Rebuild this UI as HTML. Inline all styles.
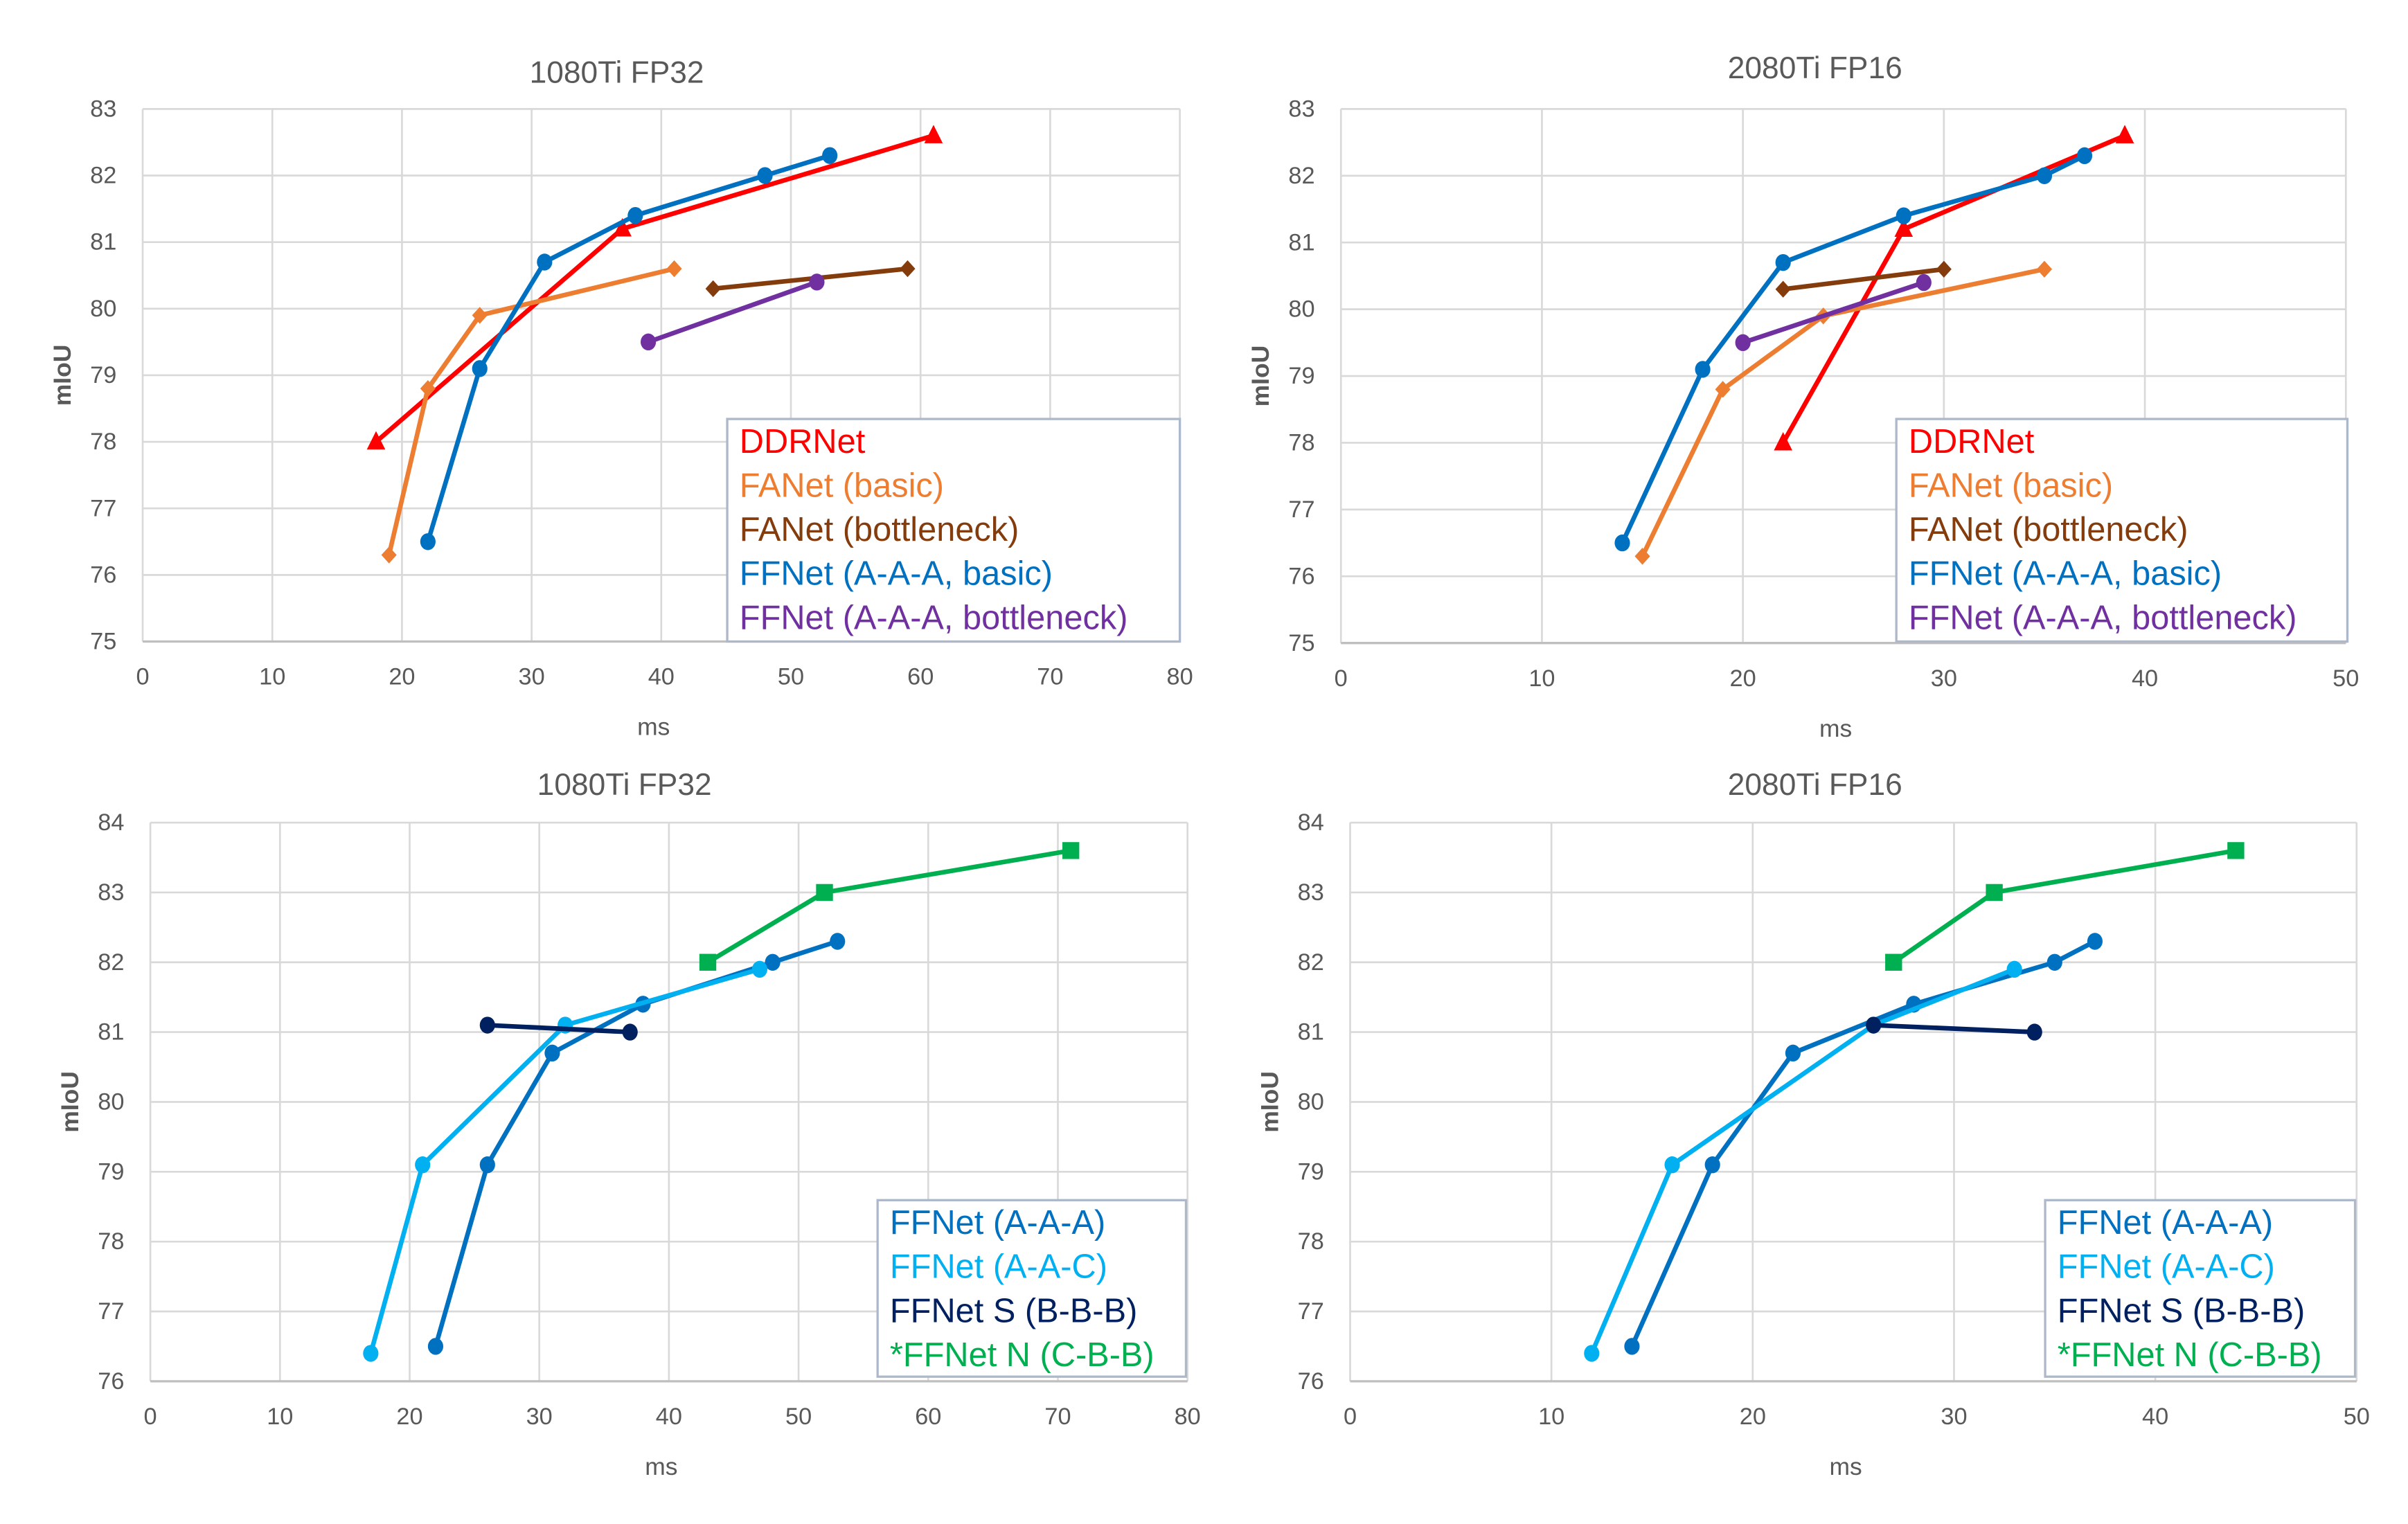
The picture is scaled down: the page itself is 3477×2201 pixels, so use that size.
<!DOCTYPE html>
<html><head><meta charset="utf-8">
<style>
html,body{margin:0;padding:0;background:#fff}
svg{display:block}
text{font-family:"Liberation Sans",sans-serif}
</style></head>
<body>
<svg id="fig" width="3477" height="2201" viewBox="0 0 1569.5 993" preserveAspectRatio="none" xmlns="http://www.w3.org/2000/svg"></svg>
<script>
// ---- Chart 1: 1080Ti FP32 (top-left)
const c1Names = ["DDRNet","FANet (basic)","FANet (bottleneck)","FFNet (A-A-A, basic)","FFNet (A-A-A, bottleneck)"];
const c1X = [[18,37,61],[19,22,26,41],[44,59],[22,26,31,38,48,53],[39,52]];
const c1Y = [[78,81.2,82.6],[76.3,78.8,79.9,80.6],[80.3,80.6],[76.5,79.1,80.7,81.4,82,82.3],[79.5,80.4]];
const c1XTicks = [0,10,20,30,40,50,60,70,80];
const c1YTicks = [75,76,77,78,79,80,81,82,83];
// ---- Chart 2: 2080Ti FP16 (top-right)
const c2X = [[22,28,39],[15,19,24,35],[22,30],[14,18,22,28,35,37],[20,29]];
const c2Y = [[78,81.2,82.6],[76.3,78.8,79.9,80.6],[80.3,80.6],[76.5,79.1,80.7,81.4,82,82.3],[79.5,80.4]];
const c2XTicks = [0,10,20,30,40,50];
// ---- Chart 3: 1080Ti FP32 (bottom-left)
const c3Names = ["FFNet (A-A-A)","FFNet (A-A-C)","FFNet S (B-B-B)","*FFNet N (C-B-B)"];
const c3X = [[22,26,31,38,48,53],[17,21,32,47],[26,37],[43,52,71]];
const c3Y = [[76.5,79.1,80.7,81.4,82,82.3],[76.4,79.1,81.1,81.9],[81.1,81.0],[82,83,83.6]];
const c3YTicks = [76,77,78,79,80,81,82,83,84];
// ---- Chart 4: 2080Ti FP16 (bottom-right)
const c4X = [[14,18,22,28,35,37],[12,16,26,33],[26,34],[27,32,44]];
const c4Y = [[76.5,79.1,80.7,81.4,82,82.3],[76.4,79.1,81.1,81.9],[81.1,81.0],[82,83,83.6]];

const colA = ["#ff0000","#ed7d31","#843c0c","#0070c0","#7030a0"];
const mkA = ["tri","dia","dia","cir","cir"];
const colB = ["#0070c0","#00b0f0","#002060","#00b050"];
const mkB = ["cir","cir","cir","sq"];

const NS="http://www.w3.org/2000/svg";
const svg=document.getElementById('fig');
function el(tag,attrs,parent){const e=document.createElementNS(NS,tag);for(const k in attrs)e.setAttribute(k,attrs[k]);(parent||svg).appendChild(e);return e;}

function chart(cfg){
  const g=el('g',{});
  
  
  const {x0,x1,y0,y1,xmin,xmax,ymin,ymax}=cfg;
  const sx=v=>x0+(v-xmin)/(xmax-xmin)*(x1-x0);
  const sy=v=>y1-(v-ymin)/(ymax-ymin)*(y1-y0);
  cfg.xticks.forEach(t=>{
    const l=el('line',{x1:sx(t),x2:sx(t),y1:y0,y2:y1,stroke:'#d9d9d9','stroke-width':1.2},g);
    
    
    const tx=el('text',{x:sx(t),y:y1+28,'text-anchor':'middle','font-size':15.5,fill:'#595959'},g);
    
    
    tx.textContent=t;
  });
  cfg.yticks.forEach(t=>{
    const l=el('line',{x1:x0,x2:x1,y1:sy(t),y2:sy(t),stroke:'#d9d9d9','stroke-width':1.2},g);
    
    
    const tx=el('text',{x:x0-17,y:sy(t)+5,'text-anchor':'end','font-size':15.5,fill:'#595959'},g);
    
    
    tx.textContent=t;
  });
  const ax=el('line',{x1:x0,x2:x1,y1:y1,y2:y1,stroke:'#bfbfbf','stroke-width':1.5},g);
  
  
  const ti=el('text',{x:cfg.tx,y:cfg.ty,'text-anchor':'middle','font-size':20,fill:'#595959'},g);
  
  
  ti.textContent=cfg.title;
  const xl=el('text',{x:(x0+x1)/2-5,y:y1+61,'text-anchor':'middle','font-size':16,fill:'#595959'},g);
  
  
  xl.textContent='ms';
  const yx=x0-47, yy=(y0+y1)/2;
  const yl=el('text',{x:yx,y:yy,'text-anchor':'middle','font-size':16,fill:'#595959','font-weight':'bold',transform:`rotate(-90 ${yx} ${yy})`},g);
  
  
  yl.textContent='mIoU';
  cfg.X.forEach((xs,i)=>{
    const c=cfg.cols[i];
    const pts=xs.map((v,j)=>sx(v)+','+sy(cfg.Y[i][j])).join(' ');
    const pl=el('polyline',{points:pts,fill:'none',stroke:c,'stroke-width':3,'stroke-linejoin':'round'},g);
    
    
    xs.forEach((v,j)=>{
      const px=sx(v),py=sy(cfg.Y[i][j]);let m;
      const t=cfg.mk[i];
      if(t==='cir') m=el('ellipse',{cx:px,cy:py,rx:5,ry:5.5,fill:c},g);
      else if(t==='tri') m=el('polygon',{points:`${px},${py-7} ${px-6},${py+5} ${px+6},${py+5}`,fill:c},g);
      else if(t==='dia') m=el('polygon',{points:`${px},${py-5.5} ${px+5},${py} ${px},${py+5.5} ${px-5},${py}`,fill:c},g);
      else m=el('rect',{x:px-5.5,y:py-5.5,width:11,height:11,fill:c},g);
      
      
    });
  });
  const L=cfg.leg;
  const lb=el('rect',{x:L.x,y:L.y,width:L.w,height:L.h,fill:'#fff',stroke:'#adb9ca','stroke-width':1.5},g);
  
  
  cfg.names.forEach((n,i)=>{
    const t=el('text',{x:L.x+8,y:L.y+22+i*L.step,'font-size':22,fill:cfg.cols[i]},g);
    
    
    t.textContent=n;
  });
}

chart({id:'chart-1080ti-fp32-top',title:'1080Ti FP32',tx:402,ty:54,x0:93,x1:769,y0:71,y1:418,xmin:0,xmax:80,ymin:75,ymax:83,
  xticks:c1XTicks,yticks:c1YTicks,X:c1X,Y:c1Y,cols:colA,mk:mkA,names:c1Names,leg:{x:474,y:273,w:295,h:145,step:28.7}});
chart({id:'chart-2080ti-fp16-top',title:'2080Ti FP16',tx:1183,ty:51,x0:874,x1:1529,y0:71,y1:419,xmin:0,xmax:50,ymin:75,ymax:83,
  xticks:c2XTicks,yticks:c1YTicks,X:c2X,Y:c2Y,cols:colA,mk:mkA,names:c1Names,leg:{x:1236,y:273,w:294,h:145,step:28.7}});
chart({id:'chart-1080ti-fp32-bottom',title:'1080Ti FP32',tx:407,ty:518,x0:98,x1:774,y0:536,y1:900,xmin:0,xmax:80,ymin:76,ymax:84,
  xticks:c1XTicks,yticks:c3YTicks,X:c3X,Y:c3Y,cols:colB,mk:mkB,names:c3Names,leg:{x:572,y:782,w:201,h:115,step:28.7}});
chart({id:'chart-2080ti-fp16-bottom',title:'2080Ti FP16',tx:1183,ty:518,x0:880,x1:1536,y0:536,y1:900,xmin:0,xmax:50,ymin:76,ymax:84,
  xticks:c2XTicks,yticks:c3YTicks,X:c4X,Y:c4Y,cols:colB,mk:mkB,names:c3Names,leg:{x:1333,y:782,w:202,h:115,step:28.7}});
</script>
</body></html>
